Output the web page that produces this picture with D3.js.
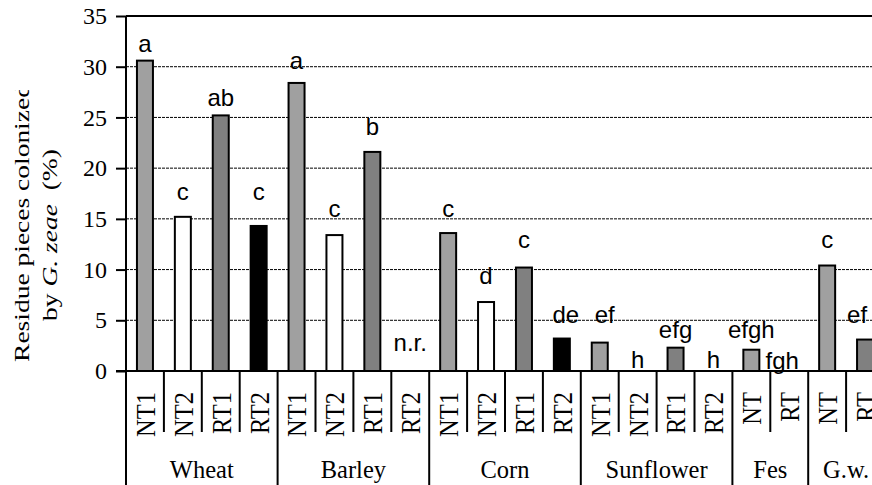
<!DOCTYPE html>
<html>
<head>
<meta charset="utf-8">
<script src="https://cdn.jsdelivr.net/npm/d3@7"></script>
<style>
  body { margin: 0; background: #fff; }
  svg { display: block; }
</style>
</head>
<body>
<div id="view"></div>
<script>
// crop groups and the treatments inside each one
var groups = ["Wheat", "Barley", "Corn", "Sunflower", "Fes", "G.w."];
var treatments = [
	["NT1", "NT2", "RT1", "RT2"],
	["NT1", "NT2", "RT1", "RT2"],
	["NT1", "NT2", "RT1", "RT2"],
	["NT1", "NT2", "RT1", "RT2"],
	["NT", "RT"],
	["NT", "RT"]
];
// percent colonized, one per bar (null = not recorded)
var values = [
	30.6, 15.2, 25.2, 14.3,
	28.4, 13.4, 21.6, null,
	13.6, 6.8, 10.2, 3.2,
	2.8, 0, 2.3, 0,
	2.1, 0,
	10.4, 3.1
];
// mean separation letters and the height (in %) where each one sits
var letters = [
	"a", "c", "ab", "c",
	"a", "c", "b", "n.r.",
	"c", "d", "c", "de",
	"ef", "h", "efg", "h",
	"efgh", "fgh",
	"c", "ef"
];
var letterAt = [
	31.5, 16.9, 26.1, 16.9,
	29.8, 15.2, 23.3, 2.0,
	15.2, 8.6, 12.1, 4.7,
	4.7, 0.3, 3.3, 0.3,
	3.3, 0.2,
	12.1, 4.7
];
var yTicks = [0, 5, 10, 15, 20, 25, 30, 35];

var W = 872, H = 485;
var plotLeft = 126, plotTop = 16, zeroY = 371, slot = 37.9;
// hand placed letters that sit a little off their bar (px, by bar index)
var nudge = {11: 4, 12: 5, 17: -7, 19: -8};

// flatten into one row per bar
var bars = [];
var groupStart = [];
treatments.forEach(function(list, g){
	groupStart.push(bars.length);
	list.forEach(function(t){
		var i = bars.length;
		bars.push({id: i, group: g, name: t, value: values[i], letter: letters[i], at: letterAt[i]});
	});
});
groupStart.push(bars.length);

function fillFor(name){
	if (name == "NT1" || name == "NT") return "#a0a0a0";
	if (name == "NT2") return "#ffffff";
	if (name == "RT1" || name == "RT") return "#808080";
	return "#000000";
}

var x = d3.scaleBand()
	.domain(bars.map(function(d){ return d.id; }))
	.range([plotLeft, plotLeft + slot * bars.length])
	.paddingInner(0.578)
	.paddingOuter(0.289);

var y = d3.scaleLinear().domain([0, 35]).range([zeroY, plotTop]);

var svg = d3.select("#view").append("svg")
	.attr("width", W)
	.attr("height", H);

// dashed grid lines
svg.append("g").selectAll("line")
	.data(yTicks.filter(function(t){ return t > 0 && t < 35; }))
	.enter().append("line")
	.attr("x1", plotLeft).attr("x2", W)
	.attr("y1", function(d){ return y(d); })
	.attr("y2", function(d){ return y(d); })
	.style("stroke", "#000")
	.style("stroke-width", 1)
	.style("stroke-dasharray", "3,1");

// top border of plot
svg.append("line")
	.attr("x1", plotLeft).attr("x2", W)
	.attr("y1", y(35)).attr("y2", y(35))
	.style("stroke", "#000").style("stroke-width", 2);

// bars
svg.append("g").selectAll("rect")
	.data(bars.filter(function(d){ return d.value; }))
	.enter().append("rect")
	.attr("x", function(d){ return x(d.id); })
	.attr("width", x.bandwidth())
	.attr("y", function(d){ return y(d.value); })
	.attr("height", function(d){ return y(0) - y(d.value); })
	.style("fill", function(d){ return fillFor(d.name); })
	.style("stroke", "#000")
	.style("stroke-width", 2);

// letters over bars
svg.append("g").selectAll("text")
	.data(bars)
	.enter().append("text")
	.attr("x", function(d){ return x(d.id) + x.bandwidth() / 2 + (nudge[d.id] || 0); })
	.attr("y", function(d){ return y(d.at); })
	.attr("text-anchor", "middle")
	.style("font-family", "'Liberation Sans', Arial, sans-serif")
	.style("font-size", "24px")
	.text(function(d){ return d.letter; });

// y axis
var yAxis = d3.axisLeft(y).tickValues(yTicks).tickSize(10).tickPadding(9);
var ga = svg.append("g").attr("transform", "translate(" + plotLeft + ",0)").call(yAxis);
ga.select(".domain").remove();
ga.selectAll(".tick line").style("stroke", "#000").style("stroke-width", 2);
ga.selectAll(".tick text")
	.style("font-family", "'Liberation Serif', 'Times New Roman', serif")
	.style("font-size", "24px")
	.style("fill", "#000");
svg.append("line")
	.attr("x1", plotLeft).attr("x2", plotLeft)
	.attr("y1", plotTop).attr("y2", H)
	.style("stroke", "#000").style("stroke-width", 2);

// x axis line
svg.append("line")
	.attr("x1", plotLeft - 10).attr("x2", W)
	.attr("y1", zeroY).attr("y2", zeroY)
	.style("stroke", "#000").style("stroke-width", 2);

// separators under the axis
var edges = d3.range(1, bars.length + 1);
svg.append("g").selectAll("line")
	.data(edges)
	.enter().append("line")
	.attr("x1", function(d){ return plotLeft + d * x.step(); })
	.attr("x2", function(d){ return plotLeft + d * x.step(); })
	.attr("y1", zeroY)
	.attr("y2", function(d){ return groupStart.indexOf(d) >= 0 ? H : 432; })
	.style("stroke", "#000").style("stroke-width", 2);

// treatment labels, rotated
svg.append("g").selectAll("text")
	.data(bars)
	.enter().append("text")
	.attr("transform", function(d){
		return "translate(" + (x(d.id) + x.bandwidth() / 2) + ",392) rotate(-90) scale(1,1.15)";
	})
	.attr("dy", "0.35em")
	.attr("text-anchor", "end")
	.style("font-family", "'Liberation Serif', 'Times New Roman', serif")
	.style("font-size", "24.5px")
	.text(function(d){ return d.name; });

// crop names
svg.append("g").selectAll("text")
	.data(groups)
	.enter().append("text")
	.attr("x", function(d, i){ return plotLeft + (groupStart[i] + groupStart[i + 1]) / 2 * x.step(); })
	.attr("y", 478)
	.attr("text-anchor", "middle")
	.style("font-family", "'Liberation Serif', 'Times New Roman', serif")
	.style("font-size", "24.5px")
	.text(function(d){ return d; });

// y title, cut at the top like the original text box
svg.append("clipPath").attr("id", "titleclip")
	.append("rect").attr("x", 0).attr("y", 90).attr("width", 80).attr("height", 400);
var title = svg.append("g").attr("clip-path", "url(#titleclip)")
	.style("font-family", "'Liberation Serif', 'Times New Roman', serif")
	.style("font-size", "22px");
title.append("text")
	.attr("transform", "translate(29,223) rotate(-90) scale(1.25,1)")
	.attr("text-anchor", "middle")
	.text("Residue pieces colonized");
var t2 = title.append("text")
	.attr("transform", "translate(57,235) rotate(-90) scale(1.25,1)")
	.attr("text-anchor", "middle");
t2.append("tspan").text("by ");
t2.append("tspan").style("font-style", "italic").text("G. zeae");
t2.append("tspan").attr("xml:space", "preserve").text("  (%)");
</script>
</body>
</html>
